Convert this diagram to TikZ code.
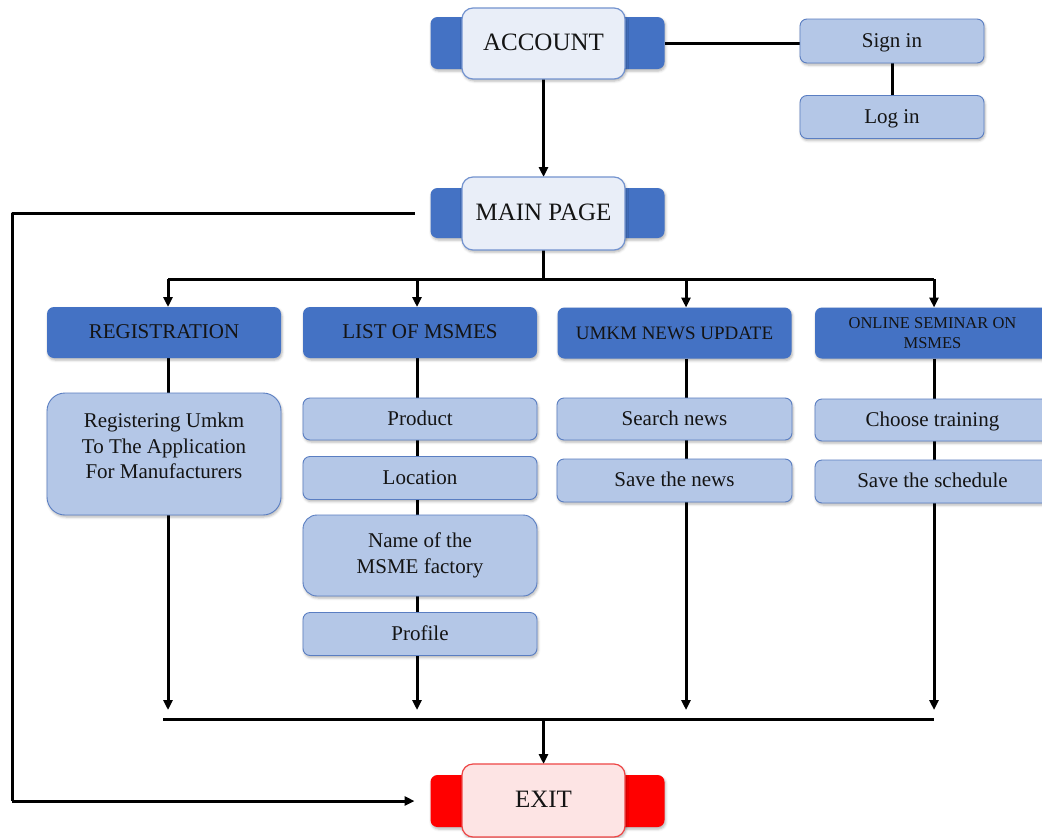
\documentclass[tikz,border=0pt]{standalone}
\usepackage{fontspec}
\setmainfont{Liberation Serif}
\usetikzlibrary{arrows.meta,shadows.blur}
\definecolor{dblue}{HTML}{4472C4}
\definecolor{lblue}{HTML}{B4C7E7}
\definecolor{lborder}{HTML}{5A7EC2}
\definecolor{wfill}{HTML}{E9EEF8}
\definecolor{wborder}{HTML}{7393CF}
\definecolor{efill}{HTML}{FDE4E4}
\definecolor{eborder}{HTML}{EE4545}
\definecolor{ered}{HTML}{FF0000}
\definecolor{txt}{HTML}{141414}
\pgfdeclarelayer{bg}
\pgfsetlayers{bg,main}
\tikzset{
  shad/.style={blur shadow={shadow xshift=1pt, shadow yshift=-2pt, shadow blur radius=2.5pt, shadow opacity=30}},
  backbar/.style={shad, rounded corners=7pt, fill=dblue, draw=none, minimum width=234pt, minimum height=52pt, inner sep=0pt, outer sep=0pt},
  frontbox/.style={shad, rounded corners=11pt, fill=wfill, draw=wborder, line width=1.2pt, minimum width=163pt, minimum height=71pt, inner sep=0pt, outer sep=0pt, text=txt, text height=17pt, text depth=3pt, font=\fontsize{25}{28}\selectfont},
  hdr/.style={shad, rounded corners=7pt, fill=dblue, draw=none, minimum width=234pt, minimum height=51pt, inner sep=0pt, outer sep=0pt, text=txt, align=center, font=\fontsize{21}{24}\selectfont},
  subbox/.style={shad, rounded corners=7pt, fill=lblue, draw=lborder, line width=0.9pt, minimum width=234pt, minimum height=43pt, inner sep=0pt, outer sep=0pt, text=txt, align=center, font=\fontsize{21}{25.5}\selectfont},
  one/.style={text height=14.5pt, text depth=2pt},
  plaintext/.style={inner sep=0pt, outer sep=0pt, text=txt, align=center, font=\fontsize{21}{25.5}\selectfont},
  ln/.style={line width=3pt, black},
  arr/.style={ln, -{Triangle[length=10pt,width=9pt]}},
}
\begin{document}
\begin{tikzpicture}[x=1pt,y=-1pt]
\useasboundingbox (0,0) rectangle (1042,838);
% column x positions
\coordinate (c1) at (168,0);
\coordinate (c2) at (417,0);
\coordinate (c3) at (686,0);
\coordinate (c4) at (934,0);
\coordinate (bus) at (543.5,279);
\coordinate (bl) at (163,719);
\coordinate (bm) at (543.5,719);
\coordinate (lt) at (12,213);
\coordinate (lb) at (12,801);

% top boxes
\node[backbar] (accb) at (547.5,43) {};
\node[frontbox] (acc) at (543.5,43.5) {ACCOUNT};
\node[subbox, one, minimum width=184pt, minimum height=44pt] (sign) at (892,41) {Sign in};
\node[subbox, one, minimum width=184pt, minimum height=43pt] (log) at (892,117) {Log in};

\node[backbar, minimum height=50pt] (mainb) at (547.5,213) {};
\node[frontbox, minimum height=73pt] (main) at (543.5,213.5) {MAIN PAGE};

\node[backbar, fill=ered] (exitb) at (547.5,801) {};
\node[frontbox, fill=efill, draw=eborder, minimum height=73pt] (exit) at (543.5,800.5) {EXIT};

% headers
\node[hdr, one] (reg) at (164,332.5) {REGISTRATION};
\node[hdr, one] (list) at (420,332.5) {LIST OF MSMES};
\node[hdr, text height=13pt, text depth=1pt, font=\fontsize{19}{22}\selectfont] (news) at (674.5,333) {UMKM NEWS UPDATE};
\node[hdr, minimum width=235pt, font=\fontsize{16.5}{20}\selectfont] (sem) at (932.5,333) {ONLINE SEMINAR ON\\MSMES};

% sub boxes
\node[subbox, minimum height=122pt, rounded corners=18pt] (regd) at (164,454) {};
\node[plaintext] (regt) at (164,446) {Registering Umkm\\To The Application\\For Manufacturers};

\node[subbox, one, minimum height=42pt] (prod) at (420,419) {Product};
\node[subbox, one] (loc) at (420,478) {Location};
\node[subbox, minimum height=81pt, rounded corners=14pt] (name) at (420,555.5) {Name of the\\MSME factory};
\node[subbox, one] (prof) at (420,634) {Profile};

\node[subbox, one, minimum width=235pt, minimum height=42pt] (search) at (674.5,419) {Search news};
\node[subbox, one, minimum width=235pt] (savenews) at (674.5,480.5) {Save the news};

\node[subbox, one, minimum width=235pt, minimum height=42pt] (choose) at (932.5,420) {Choose training};
\node[subbox, one, minimum width=235pt] (sched) at (932.5,481.5) {Save the schedule};

% connectors
\begin{pgfonlayer}{bg}
\draw[ln] (accb.east) -- (accb.east -| sign.west);
\draw[ln] (sign.south) -- (log.north);
\draw[arr] (acc.south) -- (main.north);
\draw[ln] (main.south) -- (bus);
\draw[ln] (c1 |- bus) -- (c4 |- bus);
\draw[arr] (c1 |- bus) -- (c1 |- reg.north);
\draw[arr] (c2 |- bus) -- (c2 |- list.north);
\draw[arr] (c3 |- bus) -- (c3 |- news.north);
\draw[arr] (c4 |- bus) -- (c4 |- sem.north);
\draw[arr, shorten >=9pt] (c1 |- reg.south) -- (c1 |- bl);
\draw[arr, shorten >=9pt] (c2 |- list.south) -- (c2 |- bl);
\draw[arr, shorten >=9pt] (c3 |- news.south) -- (c3 |- bl);
\draw[arr, shorten >=9pt] (c4 |- sem.south) -- (c4 |- bl);
\draw[ln] (bl) -- (c4 |- bl);
\draw[arr] (bm) -- (exit.north);
\draw[ln, line join=round] ([xshift=-16pt]mainb.west) -- (lt) -- (lb);
\draw[arr] (lb) -- ([xshift=-16pt]exitb.west);
\end{pgfonlayer}
\end{tikzpicture}
\end{document}
